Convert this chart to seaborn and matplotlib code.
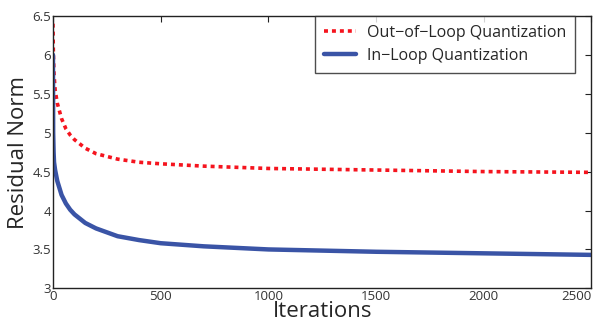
import pandas as pd
import seaborn as sns
import matplotlib
matplotlib.use("Agg")
import matplotlib.pyplot as plt

# values
out_iters = [0, 2, 5, 10, 20, 40, 60, 80, 100, 150, 200, 300, 400, 500, 700, 1000, 1500, 2000, 2500]
out_vals = [6.4, 6.0, 5.75, 5.55, 5.38, 5.18, 5.05, 4.97, 4.91, 4.8, 4.73, 4.66, 4.62, 4.60, 4.57, 4.54, 4.52, 4.50, 4.49]
in_iters = [0, 1, 3, 5, 10, 20, 40, 60, 80, 100, 150, 200, 300, 400, 500, 700, 1000, 1500, 2000, 2500]
in_vals = [6.0, 5.0, 4.75, 4.62, 4.52, 4.38, 4.2, 4.09, 4.01, 3.95, 3.84, 3.77, 3.67, 3.62, 3.58, 3.54, 3.50, 3.47, 3.45, 3.43]
labels = ["Out\u2212of\u2212Loop Quantization", "In\u2212Loop Quantization"]
xticks = [0, 500, 1000, 1500, 2000, 2500]
yticks = [3, 3.5, 4, 4.5, 5, 5.5, 6, 6.5]

sns.set_style("white")
plt.rcParams['font.family'] = ['Open Sans', 'DejaVu Sans']

fig = plt.figure(figsize=(5.95, 3.24), dpi=100)
ax = fig.add_axes([0.089, 0.11, 0.905, 0.841])

sns.lineplot(x=out_iters, y=out_vals, ax=ax, color="#f5141e", linewidth=2.6,
             label=labels[0], linestyle=(0, (1.1, 1.1)))
sns.lineplot(x=in_iters, y=in_vals, ax=ax, color="#3a54a6", linewidth=3.2, label=labels[1])

ax.set_xlim(0, 2500)
ax.set_ylim(3, 6.5)
ax.set_xticks(xticks)
ax.set_yticks(yticks)
ax.set_xticklabels([str(t) for t in xticks])
ax.set_yticklabels([f"{t:g}" for t in yticks])
ax.get_xticklabels()[-1].set_horizontalalignment("right")
ax.tick_params(direction="in", top=True, right=True, length=4, width=0.8,
               labelsize=9.5, pad=1.5, colors="#222222", labelcolor="#333333")
for s in ax.spines.values():
    s.set_color("#222222")
    s.set_linewidth(1.0)

ax.set_xlabel("Iterations", fontsize=16, labelpad=-1.5)
ax.set_ylabel("Residual Norm", fontsize=16, labelpad=2)

leg = ax.legend(loc="upper right", bbox_to_anchor=(0.97, 1.0), borderaxespad=0,
                fontsize=11.5, frameon=True, fancybox=False, handlelength=2.0,
                borderpad=0.55, labelspacing=0.45, handletextpad=0.7)
leg.get_frame().set_edgecolor("#222222")
leg.get_frame().set_linewidth(1.0)

plt.savefig("out.png", dpi=100)
